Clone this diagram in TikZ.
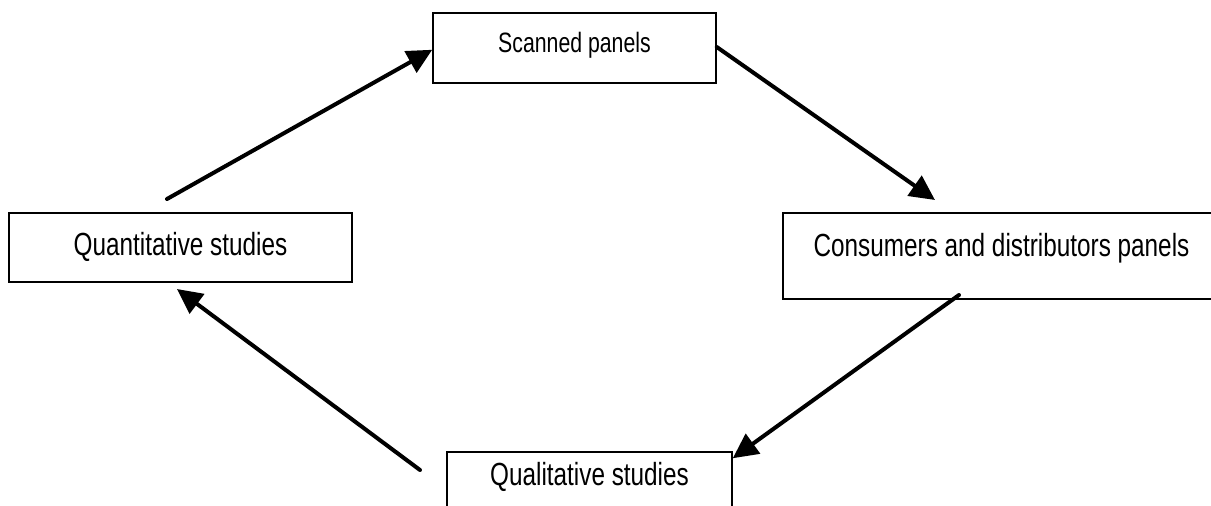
\documentclass[tikz,border=0pt]{standalone}
\usepackage{fontspec}
\setmainfont{Liberation Sans}[FakeStretch=0.76]
\usetikzlibrary{arrows.meta}

\begin{document}
\begin{tikzpicture}[x=1pt, y=-1pt,
    box/.style={draw, line width=1.5pt, inner sep=0pt, font=\fontsize{32}{38}\selectfont},
    flow/.style={line width=4pt, line cap=round, -{Triangle[length=25pt,width=24pt]}}]
    \useasboundingbox[fill=white] (0,0) rectangle (1211,506);

    \node[box, font=\fontsize{28}{34}\selectfont, minimum width=283pt,
          text height=39pt, text depth=31pt] at (574.5, 48)(scan) {Scanned panels};
    \node[box, minimum width=343pt, text height=42pt, text depth=27pt]
          at (180.5, 247.5)(quant) {Quantitative studies};
    \node[box, minimum width=437pt, text height=43pt, text depth=43pt]
          at (1001.5, 256)(cons) {Consumers and distributors panels};
    \node[box, minimum width=285pt, text height=33pt, text depth=30pt]
          at (589.5, 483.5)(qual) {Qualitative studies};

    \coordinate (a1) at (167, 199);
    \coordinate (a2) at (935, 200);
    \coordinate (a3) at (959, 295);
    \coordinate (a4) at (420, 470);
    \coordinate (t4) at (177, 289);

    \draw[flow] (a1) -- ([yshift=34pt]scan.south west);
    \draw[flow] ([yshift=1pt]scan.east) -- (a2);
    \draw[flow] (a3) -- ([yshift=-7pt]qual.north east);
    \draw[flow] (a4) -- (t4);

\end{tikzpicture}
\end{document}
